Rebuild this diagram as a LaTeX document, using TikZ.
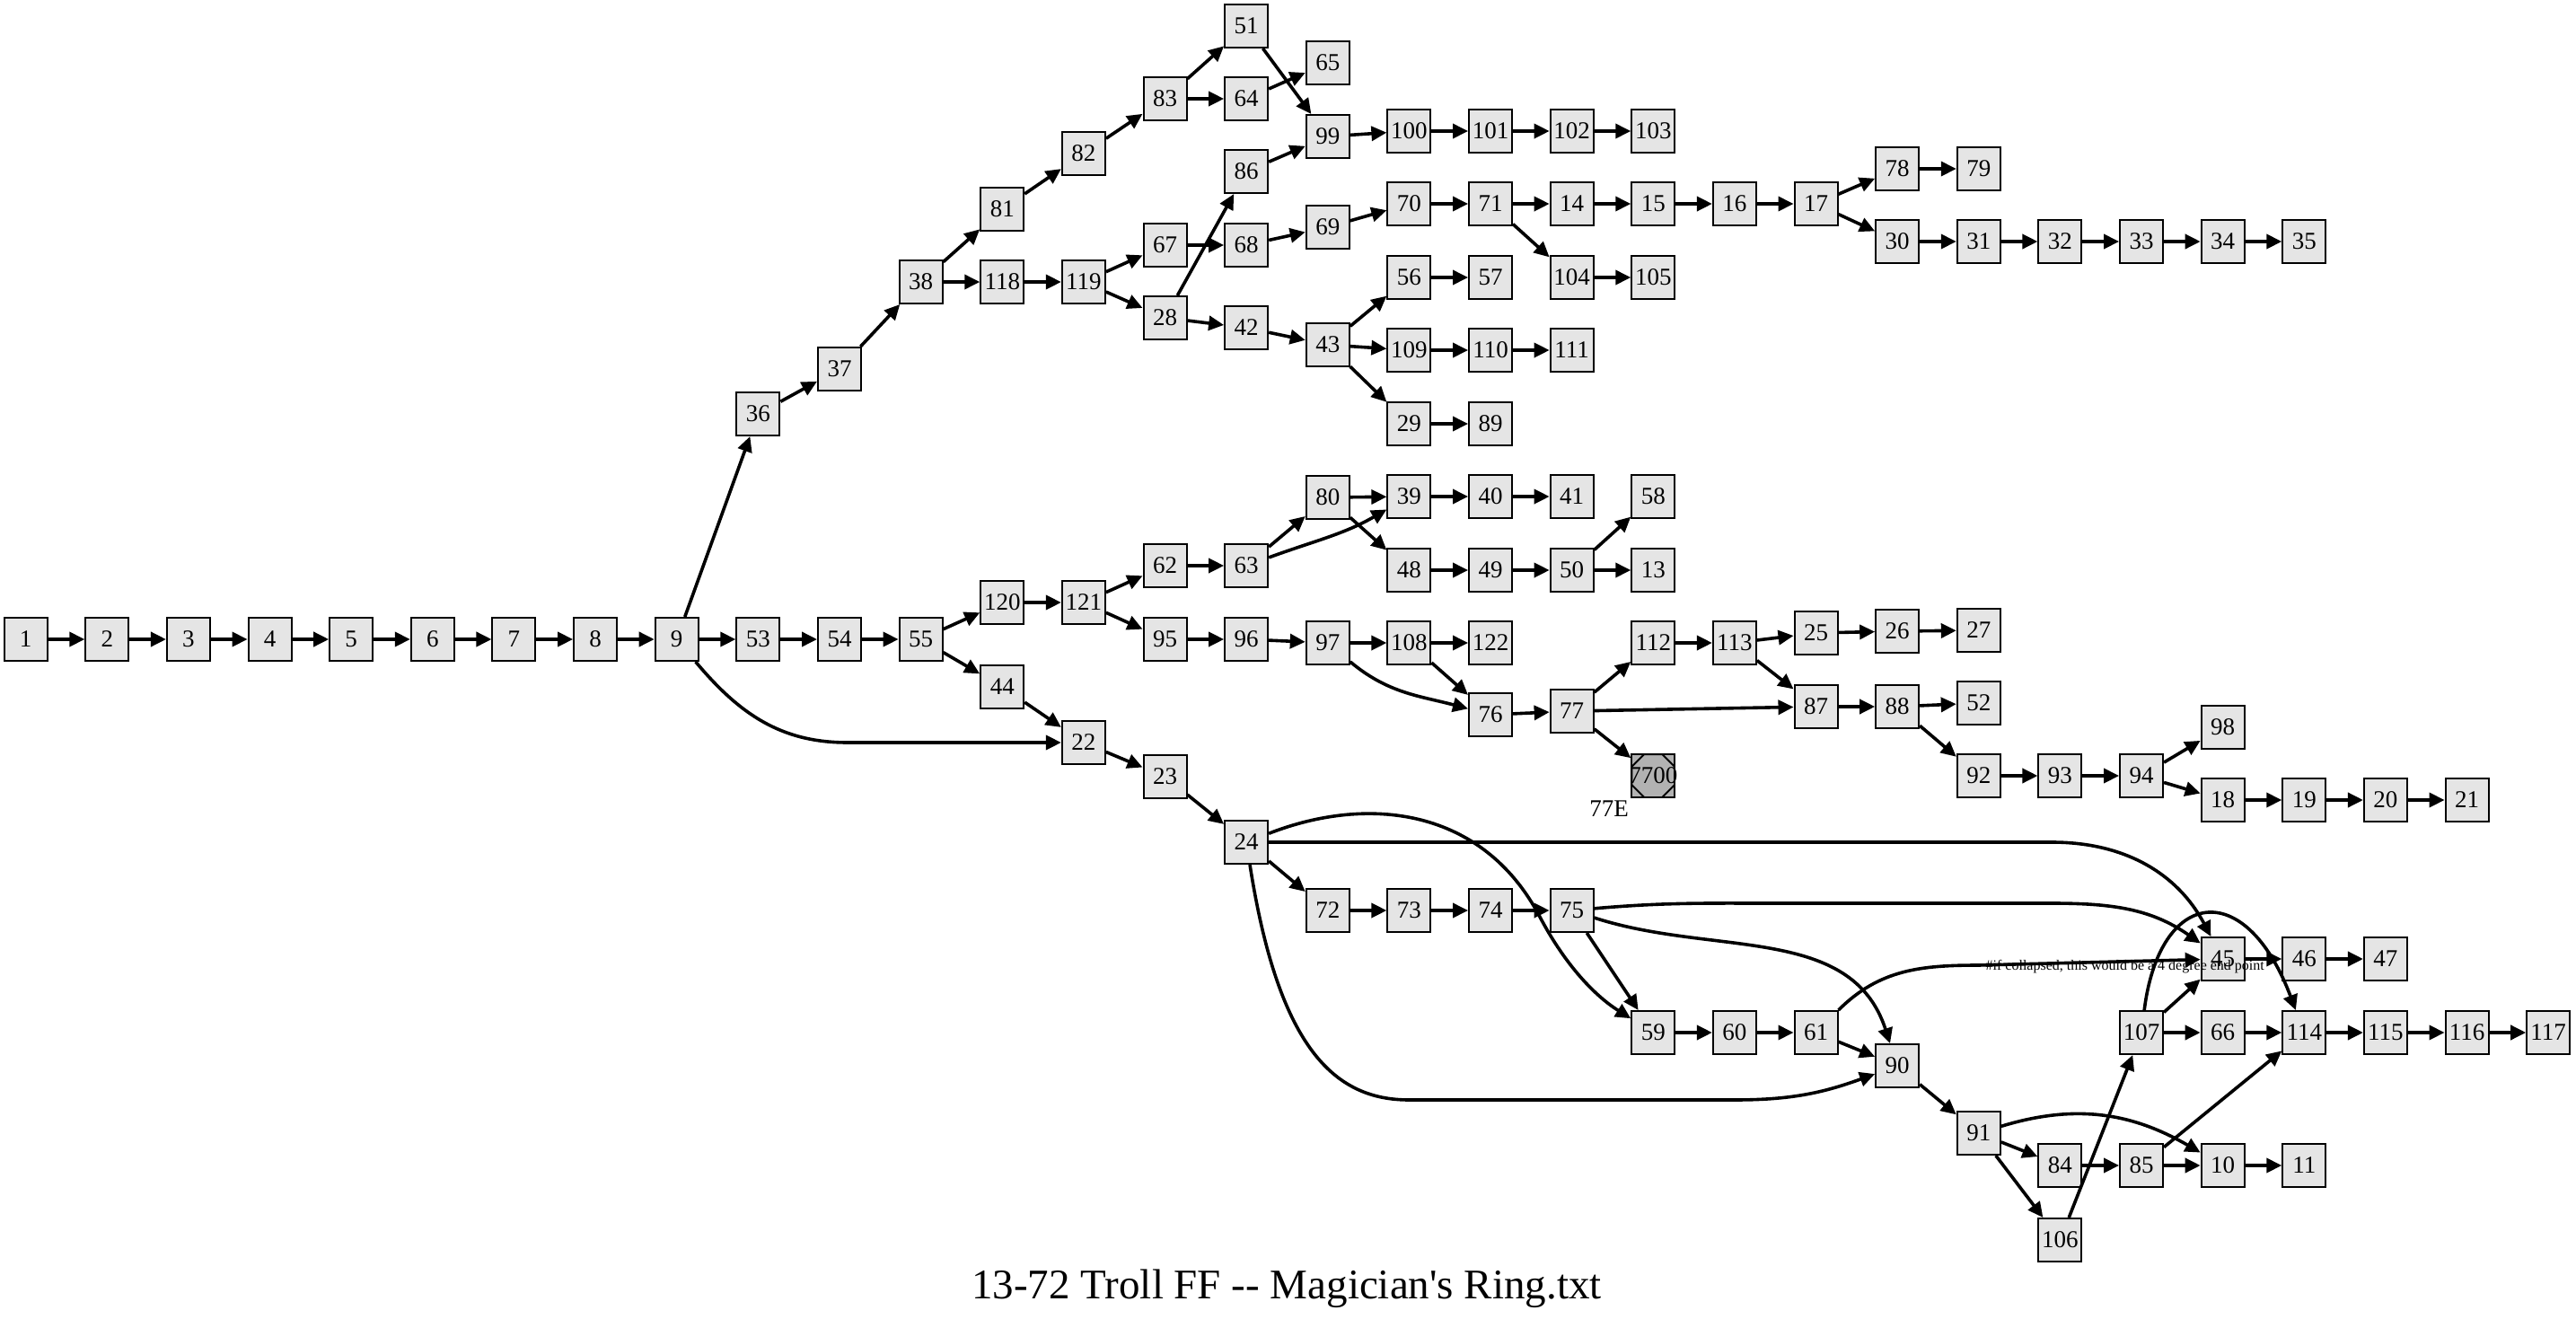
\documentclass[tikz,border=0pt]{standalone}
\usepackage{fontspec}
\setmainfont{Liberation Serif}
\usetikzlibrary{arrows.meta}

\tikzset{
	sect/.style={draw, line width=1pt, fill=gray!20, minimum width=24pt, minimum height=24pt, inner sep=0pt, font=\fontsize{13.5}{14}\selectfont},
	lost/.style={sect, fill=gray!60, path picture={\draw[line width=1pt] ([xshift=7pt]path picture bounding box.north west) -- ([xshift=-7pt]path picture bounding box.north east) -- ([yshift=-7pt]path picture bounding box.north east) -- ([yshift=7pt]path picture bounding box.south east) -- ([xshift=-7pt]path picture bounding box.south east) -- ([xshift=7pt]path picture bounding box.south west) -- ([yshift=7pt]path picture bounding box.south west) -- ([yshift=-7pt]path picture bounding box.north west) -- cycle;}},
	jump/.style={line width=1.8pt, -{Triangle[length=8.5pt,width=8pt]}},
	note/.style={font=\fontsize{8}{9}\selectfont, inner sep=0pt},
	heading/.style={font=\fontsize{23.5}{26}\selectfont, inner sep=0pt}
}

\begin{document}
\begin{tikzpicture}[x=45.315pt, y=-0.5pt]
		\useasboundingbox (-0.3167,0) rectangle (31.340,1469);

		\node[sect] (s1) at (0,712) {1};
		\node[sect] (s2) at (1,712) {2};
		\node[sect] (s3) at (2,712) {3};
		\node[sect] (s4) at (3,712) {4};
		\node[sect] (s5) at (4,712) {5};
		\node[sect] (s6) at (5,712) {6};
		\node[sect] (s7) at (6,712) {7};
		\node[sect] (s8) at (7,712) {8};
		\node[sect] (s9) at (8,712) {9};
		\node[sect] (s36) at (9,461) {36};
		\node[sect] (s53) at (9,712) {53};
		\node[sect] (s37) at (10,411) {37};
		\node[sect] (s54) at (10,712) {54};
		\node[sect] (s38) at (11,314) {38};
		\node[sect] (s55) at (11,712) {55};
		\node[sect] (s81) at (12,233) {81};
		\node[sect] (s118) at (12,314) {118};
		\node[sect] (s120) at (12,671) {120};
		\node[sect] (s44) at (12,765) {44};
		\node[sect] (s82) at (13,171) {82};
		\node[sect] (s119) at (13,314) {119};
		\node[sect] (s121) at (13,671) {121};
		\node[sect] (s22) at (13,827) {22};
		\node[sect] (s83) at (14,110) {83};
		\node[sect] (s67) at (14,273) {67};
		\node[sect] (s28) at (14,354) {28};
		\node[sect] (s62) at (14,630) {62};
		\node[sect] (s95) at (14,712) {95};
		\node[sect] (s23) at (14,865) {23};
		\node[sect] (s51) at (15,29) {51};
		\node[sect] (s64) at (15,110) {64};
		\node[sect] (s86) at (15,191) {86};
		\node[sect] (s68) at (15,273) {68};
		\node[sect] (s42) at (15,365) {42};
		\node[sect] (s63) at (15,630) {63};
		\node[sect] (s96) at (15,712) {96};
		\node[sect] (s24) at (15,938) {24};
		\node[sect] (s65) at (16,70) {65};
		\node[sect] (s99) at (16,152) {99};
		\node[sect] (s69) at (16,253) {69};
		\node[sect] (s43) at (16,384) {43};
		\node[sect] (s80) at (16,554) {80};
		\node[sect] (s97) at (16,716) {97};
		\node[sect] (s72) at (16,1014) {72};
		\node[sect] (s100) at (17,146) {100};
		\node[sect] (s70) at (17,227) {70};
		\node[sect] (s56) at (17,309) {56};
		\node[sect] (s109) at (17,390) {109};
		\node[sect] (s29) at (17,472) {29};
		\node[sect] (s39) at (17,553) {39};
		\node[sect] (s48) at (17,635) {48};
		\node[sect] (s108) at (17,716) {108};
		\node[sect] (s73) at (17,1014) {73};
		\node[sect] (s101) at (18,146) {101};
		\node[sect] (s71) at (18,227) {71};
		\node[sect] (s57) at (18,309) {57};
		\node[sect] (s110) at (18,390) {110};
		\node[sect] (s89) at (18,472) {89};
		\node[sect] (s40) at (18,553) {40};
		\node[sect] (s49) at (18,635) {49};
		\node[sect] (s122) at (18,716) {122};
		\node[sect] (s76) at (18,796) {76};
		\node[sect] (s74) at (18,1014) {74};
		\node[sect] (s102) at (19,146) {102};
		\node[sect] (s14) at (19,227) {14};
		\node[sect] (s104) at (19,309) {104};
		\node[sect] (s111) at (19,390) {111};
		\node[sect] (s41) at (19,553) {41};
		\node[sect] (s50) at (19,635) {50};
		\node[sect] (s77) at (19,792) {77};
		\node[sect] (s75) at (19,1014) {75};
		\node[sect] (s103) at (20,146) {103};
		\node[sect] (s15) at (20,227) {15};
		\node[sect] (s105) at (20,309) {105};
		\node[sect] (s58) at (20,553) {58};
		\node[sect] (s13) at (20,635) {13};
		\node[sect] (s112) at (20,716) {112};
		\node[lost, label={[font=\fontsize{13.5}{14}\selectfont, inner sep=0pt, label distance=1.5pt]below left:77E}] (s7700) at (20,864) {\makebox[0pt]{7700}};
		\node[sect] (s59) at (20,1150) {59};
		\node[sect] (s16) at (21,227) {16};
		\node[sect] (s113) at (21,716) {113};
		\node[sect] (s60) at (21,1150) {60};
		\node[sect] (s17) at (22,227) {17};
		\node[sect] (s25) at (22,705) {25};
		\node[sect] (s87) at (22,787) {87};
		\node[sect] (s61) at (22,1150) {61};
		\node[sect] (s78) at (23,188) {78};
		\node[sect] (s30) at (23,269) {30};
		\node[sect] (s26) at (23,703) {26};
		\node[sect] (s88) at (23,787) {88};
		\node[sect] (s90) at (23,1187) {90};
		\node[sect] (s79) at (24,188) {79};
		\node[sect] (s31) at (24,269) {31};
		\node[sect] (s27) at (24,702) {27};
		\node[sect] (s52) at (24,783) {52};
		\node[sect] (s92) at (24,864) {92};
		\node[sect] (s91) at (24,1262) {91};
		\node[sect] (s32) at (25,269) {32};
		\node[sect] (s93) at (25,864) {93};
		\node[sect] (s84) at (25,1298) {84};
		\node[sect] (s106) at (25,1381) {106};
		\node[sect] (s33) at (26,269) {33};
		\node[sect] (s94) at (26,864) {94};
		\node[sect] (s107) at (26,1150) {107};
		\node[sect] (s85) at (26,1298) {85};
		\node[sect] (s34) at (27,269) {34};
		\node[sect] (s98) at (27,810) {98};
		\node[sect] (s18) at (27,891) {18};
		\node[sect] (s45) at (27,1068) {45};
		\node[sect] (s66) at (27,1150) {66};
		\node[sect] (s10) at (27,1298) {10};
		\node[sect] (s35) at (28,269) {35};
		\node[sect] (s19) at (28,891) {19};
		\node[sect] (s46) at (28,1068) {46};
		\node[sect] (s114) at (28,1150) {114};
		\node[sect] (s11) at (28,1298) {11};
		\node[sect] (s20) at (29,891) {20};
		\node[sect] (s47) at (29,1068) {47};
		\node[sect] (s115) at (29,1150) {115};
		\node[sect] (s21) at (30,891) {21};
		\node[sect] (s116) at (30,1150) {116};
		\node[sect] (s117) at (31,1150) {117};

		\draw[jump] (s1) -- (s2);
		\draw[jump] (s2) -- (s3);
		\draw[jump] (s3) -- (s4);
		\draw[jump] (s4) -- (s5);
		\draw[jump] (s5) -- (s6);
		\draw[jump] (s6) -- (s7);
		\draw[jump] (s7) -- (s8);
		\draw[jump] (s8) -- (s9);
		\draw[jump] (s9) -- (s36);
		\draw[jump] (s9) -- (s53);
		\draw[jump] (s9) to[out=-50,in=180] (10.1,827) -- (s22);
		\draw[jump] (s36) -- (s37);
		\draw[jump] (s37) -- (s38);
		\draw[jump] (s38) -- (s81);
		\draw[jump] (s38) -- (s118);
		\draw[jump] (s81) -- (s82);
		\draw[jump] (s82) -- (s83);
		\draw[jump] (s83) -- (s51);
		\draw[jump] (s83) -- (s64);
		\draw[jump] (s51) -- (s99);
		\draw[jump] (s64) -- (s65);
		\draw[jump] (s86) -- (s99);
		\draw[jump] (s99) -- (s100);
		\draw[jump] (s100) -- (s101);
		\draw[jump] (s101) -- (s102);
		\draw[jump] (s102) -- (s103);
		\draw[jump] (s118) -- (s119);
		\draw[jump] (s119) -- (s67);
		\draw[jump] (s119) -- (s28);
		\draw[jump] (s67) -- (s68);
		\draw[jump] (s28) -- (s86);
		\draw[jump] (s28) -- (s42);
		\draw[jump] (s68) -- (s69);
		\draw[jump] (s69) -- (s70);
		\draw[jump] (s70) -- (s71);
		\draw[jump] (s71) -- (s14);
		\draw[jump] (s71) -- (s104);
		\draw[jump] (s14) -- (s15);
		\draw[jump] (s15) -- (s16);
		\draw[jump] (s16) -- (s17);
		\draw[jump] (s17) -- (s78);
		\draw[jump] (s17) -- (s30);
		\draw[jump] (s78) -- (s79);
		\draw[jump] (s30) -- (s31);
		\draw[jump] (s31) -- (s32);
		\draw[jump] (s32) -- (s33);
		\draw[jump] (s33) -- (s34);
		\draw[jump] (s34) -- (s35);
		\draw[jump] (s104) -- (s105);
		\draw[jump] (s42) -- (s43);
		\draw[jump] (s43) -- (s56);
		\draw[jump] (s43) -- (s109);
		\draw[jump] (s43) -- (s29);
		\draw[jump] (s56) -- (s57);
		\draw[jump] (s109) -- (s110);
		\draw[jump] (s110) -- (s111);
		\draw[jump] (s29) -- (s89);
		\draw[jump] (s53) -- (s54);
		\draw[jump] (s54) -- (s55);
		\draw[jump] (s55) -- (s120);
		\draw[jump] (s55) -- (s44);
		\draw[jump] (s120) -- (s121);
		\draw[jump] (s121) -- (s62);
		\draw[jump] (s121) -- (s95);
		\draw[jump] (s62) -- (s63);
		\draw[jump] (s63) -- (s80);
		\draw[jump] (s63) to[out=20,in=-150] (s39);
		\draw[jump] (s80) -- (s39);
		\draw[jump] (s80) -- (s48);
		\draw[jump] (s39) -- (s40);
		\draw[jump] (s40) -- (s41);
		\draw[jump] (s48) -- (s49);
		\draw[jump] (s49) -- (s50);
		\draw[jump] (s50) -- (s58);
		\draw[jump] (s50) -- (s13);
		\draw[jump] (s95) -- (s96);
		\draw[jump] (s96) -- (s97);
		\draw[jump] (s97) -- (s108);
		\draw[jump] (s97) to[out=-40,in=165] (s76);
		\draw[jump] (s108) -- (s122);
		\draw[jump] (s108) -- (s76);
		\draw[jump] (s76) -- (s77);
		\draw[jump] (s77) -- (s112);
		\draw[jump] (s77) -- (s87);
		\draw[jump] (s77) -- (s7700);
		\draw[jump] (s112) -- (s113);
		\draw[jump] (s113) -- (s25);
		\draw[jump] (s113) -- (s87);
		\draw[jump] (s25) -- (s26);
		\draw[jump] (s26) -- (s27);
		\draw[jump] (s87) -- (s88);
		\draw[jump] (s88) -- (s52);
		\draw[jump] (s88) -- (s92);
		\draw[jump] (s92) -- (s93);
		\draw[jump] (s93) -- (s94);
		\draw[jump] (s94) -- (s98);
		\draw[jump] (s94) -- (s18);
		\draw[jump] (s18) -- (s19);
		\draw[jump] (s19) -- (s20);
		\draw[jump] (s20) -- (s21);
		\draw[jump] (s44) -- (s22);
		\draw[jump] (s22) -- (s23);
		\draw[jump] (s23) -- (s24);
		\draw[jump] (s24) .. controls (16.5,885) and (17.9,900) .. (18.6,1020) .. controls (18.93,1077) and (19.3,1110) .. (s59);
		\draw[jump] (s24) -- (24.9,938) to[out=0,in=118] (s45);
		\draw[jump] (s24) -- (s72);
		\draw[jump] (s24) .. controls (15.4,1170) and (16.1,1225) .. (17,1225) -- (21,1225) to[out=0,in=-160] (s90);
		\draw[jump] (s72) -- (s73);
		\draw[jump] (s73) -- (s74);
		\draw[jump] (s74) -- (s75);
		\draw[jump] (s75) to[out=5,in=180] (21.5,1006) -- (24.9,1006) to[out=0,in=145] (s45);
		\draw[jump] (s75) -- (s59);
		\draw[jump] (s75) to[out=-18,in=108] (s90);
		\draw[jump] (s59) -- (s60);
		\draw[jump] (s60) -- (s61);
		\draw[jump] (s61) -- (s90);
		\draw[jump] (s61) to[out=45,in=180] (24,1075) -- node[note, pos=0.66, yshift=-3pt] {\#if collapsed, this would be a 4 degree end point} (s45);
		\draw[jump] (s90) -- (s91);
		\draw[jump] (s91) to[out=17,in=150] (s10);
		\draw[jump] (s91) -- (s84);
		\draw[jump] (s91) -- (s106);
		\draw[jump] (s84) -- (s85);
		\draw[jump] (s85) -- (s10);
		\draw[jump] (s85) -- (s114);
		\draw[jump] (s10) -- (s11);
		\draw[jump] (s106) -- (s107);
		\draw[jump] (s107) -- (s45);
		\draw[jump] (s107) -- (s66);
		\draw[jump] (s107) .. controls (26.22,990) and (27.27,975) .. (s114);
		\draw[jump] (s45) -- (s46);
		\draw[jump] (s46) -- (s47);
		\draw[jump] (s66) -- (s114);
		\draw[jump] (s114) -- (s115);
		\draw[jump] (s115) -- (s116);
		\draw[jump] (s116) -- (s117);

		\node[heading, anchor=base] (title) at (15.495,1446) {13-72 Troll FF -\kern0pt- Magician\textquotesingle s Ring.txt};
\end{tikzpicture}
\end{document}
